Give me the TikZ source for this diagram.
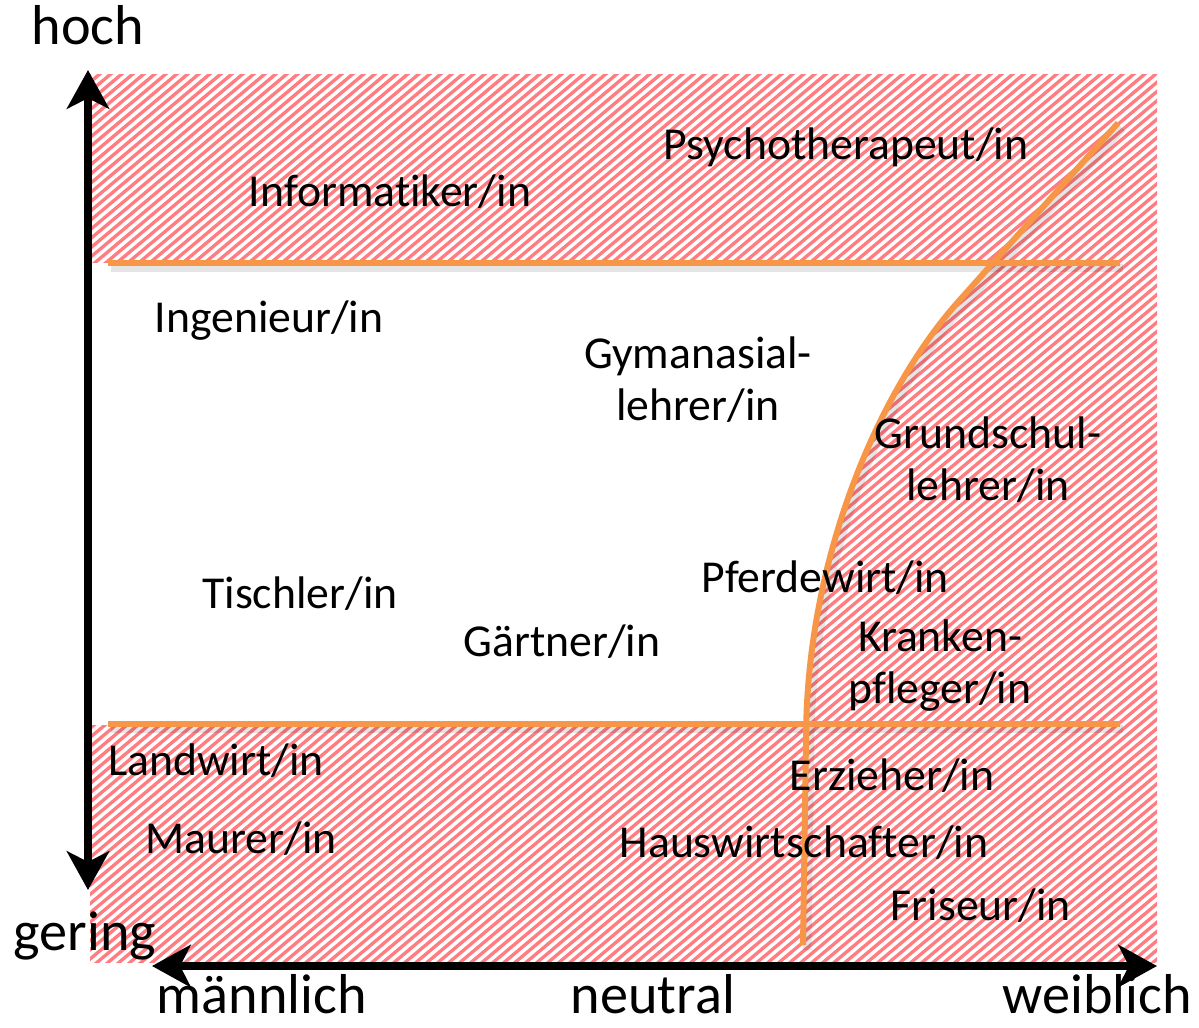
\documentclass[tikz,border=0pt]{standalone}
\usepackage{fontspec}
\setmainfont{Carlito}[Ligatures=NoCommon]
\usetikzlibrary{arrows.meta}
\definecolor{hatchred}{RGB}{255,124,128}
\definecolor{lineorange}{RGB}{247,150,70}
\tikzset{
  beruf/.style={font=\fontsize{26}{29.5}\selectfont, align=center, anchor=base, inner sep=0pt},
  achse/.style={font=\fontsize{32}{35}\selectfont, anchor=base, inner sep=0pt},
  pfeil/.style={line width=4.5pt, {Stealth[length=22pt,width=24pt,inset=6pt]}-{Stealth[length=22pt,width=24pt,inset=6pt]}},
  grenze/.style={line width=3.4pt, color=lineorange},
  grenzschatten/.style={line width=5pt, black, opacity=0.1},
}
\begin{document}
\begin{tikzpicture}[x=0.02cm, y=-0.02cm]
	\useasboundingbox (0,0) rectangle (1199,1027);
	% schraffierte Flaeche
	\begin{scope}
		\clip (90,75) rectangle (1157,962);
		\foreach \c in {-1100,-1089,...,1170}
			\draw[hatchred, line width=1.9pt] (\c,970) -- ++(1100,-923);
	\end{scope}
	% weisses Band links der Kurve
	\begin{scope}
		\clip (89,263) rectangle (1157,724);
		\fill[white] (0,945) -- (803,945) -- (806,740) .. controls (806,560) and (878,392) .. (958,302) -- (1118,123) -- (0,0) -- cycle;
	\end{scope}
	% Grenzlinien
	\draw[grenzschatten] (111,268) -- (1123,268);
	\draw[grenzschatten] (111,729) -- (1123,729);
	\draw[grenzschatten] (807,950) -- (810,745) .. controls (810,565) and (882,397) .. (962,307) -- (1122,128);
	\draw[grenze] (108,263) -- (1120,263);
	\draw[grenze] (108,724) -- (1120,724);
	\draw[grenze] (803,945) -- (806,740) .. controls (806,560) and (878,392) .. (958,302) -- (1118,123);
	% Achsen
	\coordinate (unten) at (88,890);
	\coordinate (oben) at (88,70);
	\coordinate (links) at (152,966);
	\coordinate (rechts) at (1157,966);
	\draw[pfeil] (unten) -- (oben);
	\draw[pfeil] (links) -- (rechts);
	\node[achse] (hoch) at (88,45) {hoch};
	\node[achse] (gering) at (85,950) {gering};
	\node[achse] (maennlich) at (262,1013) {männlich};
	\node[achse] (neutral) at (653,1013) {neutral};
	\node[achse] (weiblich) at (1097,1013) {weiblich};
	% Berufe
	\node[beruf] (psycho) at (846,160) {Psychotherapeut/in};
	\node[beruf] (informatiker) at (390,207) {Informatiker/in};
	\node[beruf] (ingenieur) at (269,332) {Ingenieur/in};
	\node[beruf] (gymnasial) at (698,420) {Gymanasial-\\lehrer/in};
	\node[beruf] (grundschul) at (988,500) {Grundschul-\\lehrer/in};
	\node[beruf] (pferdewirt) at (825,592) {Pferdewirt/in};
	\node[beruf] (tischler) at (300,608) {Tischler/in};
	\node[beruf] (gaertner) at (562,656) {Gärtner/in};
	\node[beruf] (kranken) at (940,703) {Kranken-\\pfleger/in};
	\node[beruf] (landwirt) at (216,775) {Landwirt/in};
	\node[beruf] (erzieher) at (892,790) {Erzieher/in};
	\node[beruf] (maurer) at (241,853) {Maurer/in};
	\node[beruf] (hauswirt) at (804,857) {Hauswirtschafter/in};
	\node[beruf] (friseur) at (981,920) {Friseur/in};
\end{tikzpicture}
\end{document}
